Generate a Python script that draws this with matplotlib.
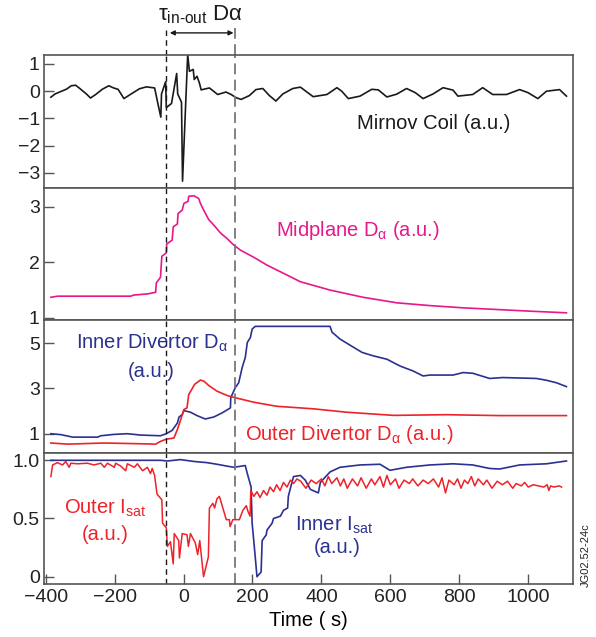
import numpy as np
import matplotlib
matplotlib.use("Agg")
import matplotlib.pyplot as plt

plt.rcParams["font.family"] = ["Liberation Sans", "DejaVu Sans"]
plt.rcParams["mathtext.fontset"] = "custom"
plt.rcParams["mathtext.rm"] = "Liberation Sans"
plt.rcParams["mathtext.it"] = "Liberation Sans"

BLACK = "#1a1a1a"
PINK = "#e8178a"
BLUE = "#2b3190"
RED = "#ee2229"
SPINE = "#555555"

# Mirnov coil (a.u.)
mirnov_t = [-385, -373, -339, -326, -313, -303, -282, -270, -255, -236, -217, -203, -190,
            -173, -152, -128, -108, -84, -74, -66, -64, -52, -50, -35, -20, -17, -6, -3,
            12, 17, 28, 31, 39, 46, 51, 75, 99, 123, 138, 153, 167, 191, 210, 230, 249,
            268, 288, 317, 339, 376, 416, 445, 459, 478, 512, 546, 565, 590, 618, 647,
            672, 695, 724, 753, 782, 796, 839, 868, 897, 937, 975, 999, 1028, 1053, 1091, 1111]
mirnov_v = [-0.22, -0.1, 0.08, 0.2, 0.22, 0.12, -0.1, -0.25, -0.12, 0.07, 0.2, 0.12, 0.07,
            -0.27, -0.1, 0.09, 0.16, 0.12, -0.48, -0.95, -0.1, 0.35, -0.6, -0.45, 0.65, -0.1,
            -0.4, -3.3, 1.35, 0.73, 0.8, 0.43, 0.55, 0.3, 0.05, 0.12, -0.12, -0.03, -0.12,
            -0.24, -0.3, -0.16, 0.06, 0.1, -0.16, -0.36, -0.1, 0.1, 0.15, -0.2, -0.12, 0.13,
            0.0, -0.27, -0.18, 0.07, 0.05, -0.21, -0.11, 0.1, -0.05, -0.27, -0.1, 0.13, 0.04,
            -0.18, -0.12, 0.13, -0.12, -0.12, 0.06, -0.05, -0.27, 0.0, 0.06, -0.18]

# Midplane D-alpha (a.u.)
mid_t = [-385, -365, -153, -145, -105, -81, -79, -67, -63, -50, -49, -33, -30, -18, -16,
         -4, 1, 13, 15, 30, 44, 49, 61, 73, 88, 107, 126, 146, 165, 204, 242, 281, 339,
         425, 521, 619, 715, 811, 908, 1004, 1111]
mid_v = [1.37, 1.39, 1.39, 1.41, 1.43, 1.46, 1.63, 1.73, 2.11, 2.17, 2.33, 2.40, 2.64, 2.69,
         2.88, 2.94, 3.06, 3.10, 3.19, 3.20, 3.15, 3.06, 2.91, 2.77, 2.67, 2.53, 2.43, 2.31,
         2.22, 2.09, 1.95, 1.83, 1.65, 1.50, 1.37, 1.27, 1.22, 1.18, 1.15, 1.12, 1.09]

# Inner divertor D-alpha (a.u.)
indiv_t = [-385, -356, -322, -249, -240, -202, -163, -124, -67, -50, -33, -18, -13, -4, 1,
           20, 39, 63, 88, 112, 136, 137, 150, 160, 170, 179, 185, 194, 199, 208, 425, 431,
           454, 483, 518, 550, 590, 628, 666, 695, 715, 782, 811, 839, 888, 926, 1024, 1053,
           1082, 1111]
indiv_v = [1.0, 0.96, 0.85, 0.85, 0.91, 0.97, 1.0, 0.94, 0.91, 1.0, 1.15, 1.47, 1.74, 1.84,
           2.02, 1.95, 1.80, 1.65, 1.74, 1.92, 2.14, 2.59, 3.03, 3.25, 3.92, 4.36, 5.03, 5.25,
           5.62, 5.74, 5.74, 5.48, 5.18, 4.91, 4.59, 4.44, 4.29, 3.99, 3.77, 3.55, 3.59, 3.59,
           3.70, 3.67, 3.44, 3.48, 3.44, 3.36, 3.25, 3.08]

# Outer divertor D-alpha (a.u.)
outdiv_t = [-385, -336, -231, -134, -81, -67, -50, -28, -18, -9, 1, 10, 15, 25, 32, 49, 59,
            73, 97, 126, 150, 204, 271, 339, 376, 473, 609, 762, 917, 1111]
outdiv_v = [0.59, 0.54, 0.59, 0.56, 0.54, 0.66, 0.76, 0.81, 1.18, 1.59, 2.07, 2.14, 2.73,
            2.99, 3.18, 3.37, 3.32, 3.13, 2.88, 2.69, 2.59, 2.39, 2.21, 2.14, 2.10, 1.95,
            1.81, 1.84, 1.80, 1.80]

# Inner I_sat (a.u.)
inisat_t = [-385, -67, -47, -9, 30, 68, 97, 126, 146, 179, 185, 196, 199, 208, 213, 225, 228,
            240, 242, 257, 261, 281, 290, 302, 304, 310, 319, 339, 353, 368, 391, 397, 425,
            454, 512, 570, 599, 647, 715, 782, 839, 888, 917, 975, 1053, 1111]
inisat_v = [1.0, 1.0, 0.994, 1.006, 0.99, 0.98, 0.966, 0.95, 0.94, 0.955, 0.886, 0.77, 0.46,
            0.17, 0.0, 0.04, 0.31, 0.36, 0.40, 0.46, 0.50, 0.52, 0.57, 0.59, 0.69, 0.76, 0.86,
            0.87, 0.83, 0.75, 0.72, 0.81, 0.90, 0.94, 0.96, 0.966, 0.914, 0.94, 0.96, 0.97,
            0.96, 0.93, 0.925, 0.96, 0.97, 0.994]

# Outer I_sat (a.u.)
outisat_t = [-385, -380, -366, -351, -342, -332, -327, -308, -279, -260, -240, -230, -221,
             -201, -197, -182, -168, -163, -143, -134, -119, -105, -96, -91, -84, -77, -63,
             -61, -50, -47, -38, -30, -27, -14, -12, -4, 10, 14, 20, 34, 41, 47, 58, 72, 75,
             85, 90, 97, 104, 114, 124, 133, 135, 143, 162, 172, 182, 187, 193, 195, 204,
             213, 222, 232, 242, 251, 261, 270, 280, 290, 300, 310, 319, 329, 340, 355, 370,
             385, 400, 410, 420, 430, 445, 455, 465, 475, 490, 505, 515, 530, 545, 555, 570,
             580, 590, 600, 615, 625, 640, 655, 665, 680, 695, 710, 725, 740, 750, 760, 770,
             785, 795, 805, 815, 825, 835, 845, 855, 870, 880, 895, 910, 925, 940, 955, 965,
             980, 990, 1000, 1015, 1030, 1045, 1055, 1060, 1065, 1075, 1090, 1097]
outisat_v = [0.86, 0.96, 0.98, 0.96, 0.99, 0.94, 0.975, 0.97, 0.975, 0.96, 0.975, 0.94,
             0.975, 0.94, 0.975, 0.95, 0.91, 0.97, 0.94, 0.97, 0.91, 0.94, 0.886, 0.93, 0.87,
             0.71, 0.66, 0.46, 0.42, 0.26, 0.30, 0.11, 0.37, 0.31, 0.16, 0.37, 0.36, 0.26,
             0.37, 0.29, 0.19, 0.31, 0.0, 0.17, 0.59, 0.63, 0.59, 0.67, 0.69, 0.59, 0.49,
             0.49, 0.43, 0.49, 0.49, 0.57, 0.61, 0.56, 0.52, 0.74, 0.69, 0.73, 0.68, 0.74,
             0.70, 0.77, 0.73, 0.79, 0.74, 0.81, 0.77, 0.83, 0.80, 0.84, 0.82, 0.76, 0.83,
             0.80, 0.84, 0.78, 0.86, 0.80, 0.85, 0.78, 0.84, 0.76, 0.84, 0.78, 0.85, 0.76,
             0.84, 0.79, 0.86, 0.77, 0.87, 0.79, 0.84, 0.76, 0.83, 0.80, 0.84, 0.78, 0.83,
             0.80, 0.84, 0.77, 0.85, 0.72, 0.83, 0.79, 0.84, 0.76, 0.83, 0.80, 0.86, 0.78,
             0.84, 0.79, 0.83, 0.76, 0.82, 0.79, 0.82, 0.76, 0.80, 0.78, 0.81, 0.77, 0.79,
             0.78, 0.77, 0.79, 0.74, 0.78, 0.77, 0.78, 0.77]

T_LEFT, T_RIGHT = -50, 150
XLIM = (-405, 1130)
XTICKS = [-400, -200, 0, 200, 400, 600, 800, 1000]
FS = 14.5

fig = plt.figure(figsize=(5.96, 6.37), dpi=100)
left, width = 0.0738, 0.8876
ax1 = fig.add_axes([left, 0.7049, width, 0.2088])
ax2 = fig.add_axes([left, 0.4976, width, 0.2073])
ax3 = fig.add_axes([left, 0.2889, width, 0.2087])
ax4 = fig.add_axes([left, 0.0832, width, 0.2057])
axes = [ax1, ax2, ax3, ax4]

ax1.plot(mirnov_t, mirnov_v, color=BLACK, lw=1.2)
ax2.plot(mid_t, mid_v, color=PINK, lw=1.2)
ax3.plot(indiv_t, indiv_v, color=BLUE, lw=1.2)
ax3.plot(outdiv_t, outdiv_v, color=RED, lw=1.2)
ax4.plot(inisat_t, inisat_v, color=BLUE, lw=1.2)
ax4.plot(outisat_t, outisat_v, color=RED, lw=1.1)

ax1.set_ylim(-3.55, 1.33)
ax1.set_yticks([1, 0, -1, -2, -3])
ax1.set_yticklabels(["1", "0", "\u22121", "\u22122", "\u22123"])
ax2.set_ylim(0.96, 3.34)
ax2.set_yticks([1, 2, 3])
ax3.set_ylim(0.15, 6.02)
ax3.set_yticks([1, 3, 5])
ax4.set_ylim(-0.063, 1.063)
ax4.set_yticks([0, 0.5, 1.0])
ax4.set_yticklabels(["0", "0.5", "1.0"])

for ax in axes:
    ax.set_xlim(*XLIM)
    ax.axvline(T_LEFT, color=BLACK, lw=1.0, ls=(0, (4, 3)))
    ax.axvline(T_RIGHT, color="#777777", lw=1.3, ls=(0, (6, 3)))
    for s in ax.spines.values():
        s.set_color(SPINE)
        s.set_linewidth(1.2)
    ax.tick_params(axis="y", direction="in", length=7, width=1, color=SPINE,
                   labelsize=14, pad=3, labelcolor="#222222")
    ax.tick_params(axis="x", direction="in", length=7, width=1, color=SPINE,
                   labelsize=14, labelcolor="#222222")
    if ax is not ax4:
        ax.set_xticks([])

ax4.set_xticks(XTICKS)
ax4.set_xticklabels([str(v).replace("-", "\u2212") for v in XTICKS])
ax4.set_xlabel("Time ( s)", fontsize=FS, labelpad=4)

# dashed lines extended above the top panel and the tau arrow
ax1.plot([T_LEFT, T_LEFT], [1.33, 2.33], color=BLACK, lw=1.0, ls=(0, (4, 3)), clip_on=False)
ax1.plot([T_RIGHT, T_RIGHT], [1.33, 2.33], color="#777777", lw=1.3, ls=(0, (6, 3)), clip_on=False)
ax1.annotate("", xy=(-40, 2.14), xytext=(145, 2.14), annotation_clip=False,
             arrowprops=dict(arrowstyle="<|-|>", color=BLACK, lw=1.0,
                             mutation_scale=7, shrinkA=0, shrinkB=0))
ax1.text(50, 2.38, "\u03c4$_\\mathregular{in‐out}$ D\u03b1", ha="center", va="bottom",
         fontsize=16, color=BLACK, clip_on=False)

ax1.text(725, -1.2, "Mirnov Coil (a.u.)", ha="center", va="center", fontsize=FS, color=BLACK)
ax2.text(505, 2.58, "Midplane D$_\\mathregular{\u03b1}$ (a.u.)", ha="center", va="center",
         fontsize=FS, color=PINK)
ax3.text(-93, 5.0, "Inner Divertor D$_\\mathregular{\u03b1}$", ha="center", va="center",
         fontsize=FS, color=BLUE)
ax3.text(-95, 3.76, "(a.u.)", ha="center", va="center", fontsize=FS, color=BLUE)
ax3.text(480, 0.96, "Outer Divertor D$_\\mathregular{\u03b1}$ (a.u.)", ha="center", va="center",
         fontsize=FS, color=RED)
ax4.text(-226, 0.59, "Outer I$_\\mathregular{sat}$", ha="center", va="center",
         fontsize=FS, color=RED)
ax4.text(-226, 0.36, "(a.u.)", ha="center", va="center", fontsize=FS, color=RED)
ax4.text(437, 0.44, "Inner I$_\\mathregular{sat}$", ha="center", va="center",
         fontsize=FS, color=BLUE)
ax4.text(446, 0.25, "(a.u.)", ha="center", va="center", fontsize=FS, color=BLUE)

fig.text(0.983, 0.078, "JG02.52-24c", rotation=90, ha="center", va="bottom",
         fontsize=8, color="#222222")

fig.savefig("out.png", dpi=100)
